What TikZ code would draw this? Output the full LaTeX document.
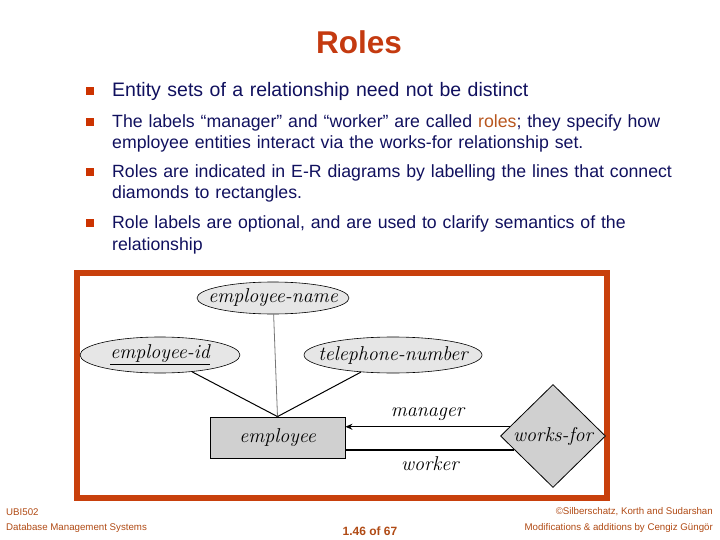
\documentclass[tikz,border=0pt]{standalone}
\usepackage{fontspec}
\setsansfont{Liberation Sans}
\usepackage{xcolor}
\usepackage{tikz}
\usetikzlibrary{arrows.meta,shapes.geometric}
\definecolor{titleRed}{HTML}{C43A10}
\definecolor{bulletOrange}{HTML}{CC3300}
\definecolor{bodyNavy}{HTML}{10105E}
\definecolor{roleBrown}{HTML}{B8561E}
\definecolor{footBrown}{HTML}{B04A14}
\definecolor{frameOrange}{HTML}{C8400C}
\definecolor{attrGrey}{HTML}{E6E6E6}
\definecolor{entGrey}{HTML}{D0D0D0}
\definecolor{stemGrey}{HTML}{777777}
\tikzset{
  bullettext/.style={anchor=base west, align=left, text width=590pt, font=\sffamily\fontsize{17.7}{21}\selectfont, text=bodyNavy, inner sep=0pt},
  bulletsq/.style={rectangle, fill=bulletOrange, minimum size=8pt, inner sep=0pt},
  footnote/.style={font=\sffamily\fontsize{9.7}{11}\selectfont, text=footBrown, inner sep=0pt},
  % --- E-R diagram styles ---
  attr/.style 2 args={ellipse, draw=black, fill=attrGrey, line width=0.6pt, inner sep=0pt, minimum width=#1, minimum height=#2},
  entity/.style={rectangle, draw=black, fill=entGrey, line width=0.8pt, minimum width=135pt, minimum height=41pt, inner sep=0pt, font=\itshape\fontsize{20}{24}\selectfont},
  rel/.style={diamond, draw=black, fill=entGrey, line width=0.8pt, inner sep=0pt, minimum width=105pt, minimum height=103pt},
  ertext/.style={font=\itshape\fontsize{20}{24}\selectfont, inner sep=0pt},
  attrline/.style={line width=1pt, draw=black},
  roleline/.style={line width=1.2pt, draw=black},
  rolearrow/.style={-{Stealth[length=7pt,width=6pt]}, line width=1.2pt, draw=black},
}

\begin{document}
\begin{tikzpicture}[x=1pt,y=-1pt]
  \useasboundingbox (0,0) rectangle (720,540);

  \node[font=\sffamily\bfseries\fontsize{31.5}{34}\selectfont, text=titleRed] (title) at (359,42) {Roles};

  \node[bulletsq] (b1) at (90,91) {};
  \node[bullettext, font=\sffamily\fontsize{19.5}{24}\selectfont] (t1) at (112,97) {Entity sets of a relationship need not be distinct};
  \node[bulletsq] (b2) at (90,122) {};
  \node[bullettext] (t2) at (112,128) {The labels “manager” and “worker” are called \textcolor{roleBrown}{roles}; they specify how\\employee entities interact via the works-for relationship set.};
  \node[bulletsq] (b3) at (90,172) {};
  \node[bullettext] (t3) at (112,178) {Roles are indicated in E-R diagrams by labelling the lines that connect\\diamonds to rectangles.};
  \node[bulletsq] (b4) at (90,223) {};
  \node[bullettext] (t4) at (112,229) {Role labels are optional, and are used to clarify semantics of the\\relationship};

  % diagram frame
  \draw[line width=6pt, draw=frameOrange] (76.5,273) rectangle (607,498);

  \node[attr={152pt}{32pt}, label={[ertext]center:employee-name}] (ename) at (273,298) {};
  \node[attr={160pt}{36pt}, label={[ertext]center:\underline{employee-id}}] (eid) at (160,355) {};
  \node[attr={178pt}{36pt}, label={[ertext]center:telephone-number}] (tel) at (393,355) {};
  \node[entity] (emp) at (277.5,437.5) {employee};
  \node[rel, label={[ertext]center:works-for}] (wf) at (553,436) {};

  \draw[attrline, draw=stemGrey, line width=0.8pt] (ename) -- (emp.north);
  \draw[attrline] (eid) -- (emp.north);
  \draw[attrline] (tel) -- (emp.north);

  \draw[rolearrow] (wf.168) -- node[ertext, above=6pt] (mgr) {manager} (wf.168 -| emp.east);
  \draw[roleline] (wf.200) -- node[ertext, below=6pt] (wkr) {worker} (wf.200 -| emp.east);

  % footer
  \node[footnote, anchor=west] (course) at (6,512) {UBI502};
  \node[footnote, anchor=west] (dbms) at (6,528) {Database Management Systems};
  \node[font=\sffamily\bfseries\fontsize{12}{14}\selectfont, text=footBrown] (page) at (370,531) {1.46 of 67};
  \node[footnote, anchor=east] (copy) at (713,512) {©Silberschatz, Korth and Sudarshan};
  \node[footnote, anchor=east] (mods) at (713,528) {Modifications \& additions by Cengiz Güngör};
\end{tikzpicture}
\end{document}
